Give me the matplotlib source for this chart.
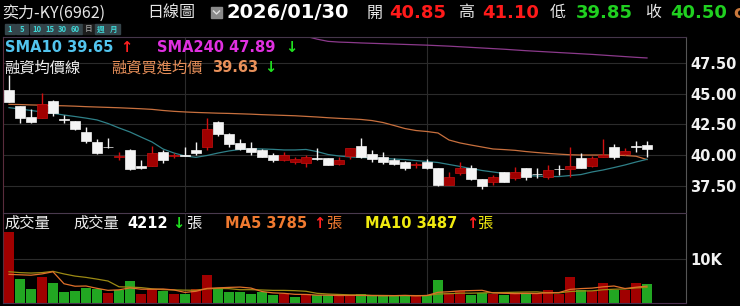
import matplotlib
matplotlib.use('Agg')
import matplotlib.pyplot as plt
from matplotlib.patches import Rectangle
from matplotlib.lines import Line2D

W, H = 740, 306
CJK = ['Noto Sans CJK TC', 'DejaVu Sans']

# daily candles (oldest -> newest)
opens = [45.28, 44.00, 43.07, 43.03, 44.39, 42.88, 42.76, 41.85, 41.08, 40.68,
         39.85, 40.41, 39.13, 39.13, 40.27, 39.94, 39.96, 40.41, 40.67, 42.71,
         41.71, 40.95, 40.60, 40.41, 40.00, 39.59, 39.41, 39.32, 39.76, 39.73,
         39.24, 39.92, 40.76, 40.06, 39.86, 39.59, 39.46, 39.21, 39.46, 38.92,
         37.56, 38.51, 38.92, 38.02, 37.83, 38.59, 38.11, 38.92, 38.48, 38.24,
         38.88, 38.86, 39.78, 39.13, 39.86, 40.67, 40.05, 40.70, 40.85]
highs = [46.50, 44.02, 43.72, 45.07, 44.45, 43.25, 42.80, 42.30, 41.28, 41.41,
         40.27, 40.45, 39.59, 40.76, 40.41, 40.19, 40.68, 41.08, 42.98, 42.75,
         41.75, 41.28, 41.08, 40.45, 40.19, 40.27, 39.86, 40.00, 40.54, 39.75,
         39.86, 40.56, 41.36, 40.41, 40.22, 39.73, 39.50, 39.46, 39.65, 38.95,
         38.64, 39.41, 39.19, 38.05, 38.37, 38.60, 39.05, 38.95, 38.92, 39.19,
         39.19, 40.67, 40.14, 39.92, 41.28, 40.87, 40.60, 41.14, 41.10]
lows = [44.28, 42.58, 42.63, 43.00, 43.17, 42.58, 42.05, 40.95, 40.06, 40.54,
        39.59, 38.82, 38.90, 39.10, 39.37, 39.73, 39.90, 40.00, 40.41, 41.54,
        40.67, 40.41, 40.00, 39.80, 39.46, 39.55, 39.27, 39.05, 39.59, 39.15,
        39.20, 39.65, 39.78, 39.46, 39.27, 39.19, 38.78, 38.97, 38.84, 37.50,
        37.53, 38.37, 38.00, 37.21, 37.56, 37.80, 37.97, 37.97, 38.11, 38.05,
        38.37, 38.19, 38.95, 39.05, 39.81, 39.67, 40.00, 40.27, 39.85]
closes = [44.28, 42.98, 42.71, 44.12, 43.39, 42.84, 42.09, 41.14, 40.19, 40.64,
          39.89, 38.84, 38.92, 40.14, 39.59, 39.98, 39.92, 40.14, 42.11, 41.68,
          40.87, 40.49, 40.27, 39.86, 39.59, 40.00, 39.65, 39.86, 39.70, 39.19,
          39.59, 40.54, 39.81, 39.68, 39.41, 39.27, 38.97, 39.25, 38.92, 37.56,
          38.19, 38.92, 38.02, 37.48, 38.19, 37.83, 38.64, 38.19, 38.43, 38.78,
          38.84, 39.11, 38.97, 39.73, 40.00, 39.86, 40.35, 40.66, 40.50]

sma10 = [43.85, 43.74, 43.62, 43.50, 43.39, 43.25, 43.13, 43.00, 42.85, 42.56,
         42.20, 41.87, 41.46, 41.06, 40.49, 40.16, 39.92, 39.81, 39.96, 40.16,
         40.33, 40.45, 40.49, 40.49, 40.46, 40.41, 40.41, 40.45, 40.28, 40.04,
         39.92, 39.84, 39.80, 39.76, 39.72, 39.67, 39.63, 39.55, 39.47, 39.39,
         39.23, 39.07, 38.90, 38.74, 38.62, 38.50, 38.41, 38.33, 38.29, 38.25,
         38.25, 38.33, 38.41, 38.62, 38.78, 38.98, 39.19, 39.43, 39.65]
sma240 = [50.62, 50.60, 50.57, 50.55, 50.52, 50.49, 50.46, 50.43, 50.40, 50.37,
          50.33, 50.30, 50.26, 50.22, 50.18, 50.14, 50.10, 50.06, 50.02, 49.97,
          49.94, 49.91, 49.88, 49.85, 49.82, 49.78, 49.73, 49.65, 49.42, 49.24,
          49.18, 49.15, 49.11, 49.08, 49.05, 49.02, 48.99, 48.96, 48.93, 48.89,
          48.85, 48.80, 48.75, 48.70, 48.65, 48.60, 48.54, 48.48, 48.43, 48.38,
          48.33, 48.28, 48.23, 48.18, 48.12, 48.06, 48.00, 47.94, 47.89]
margin_avg = [44.12, 44.10, 44.07, 44.05, 44.02, 44.00, 43.97, 43.93, 43.90, 43.87,
              43.84, 43.80, 43.76, 43.71, 43.62, 43.55, 43.50, 43.46, 43.43, 43.40,
              43.38, 43.35, 43.32, 43.28, 43.25, 43.22, 43.19, 43.14, 43.09, 43.03,
              42.98, 42.94, 42.89, 42.80, 42.64, 42.40, 42.15, 41.99, 41.91, 41.79,
              41.22, 40.98, 40.81, 40.65, 40.49, 40.44, 40.38, 40.28, 40.20, 40.13,
              40.07, 40.02, 40.00, 40.00, 40.00, 39.99, 39.96, 39.90, 39.63]

volume = [16300, 5540, 3150, 5920, 4600, 2450, 2690, 3380, 3230, 2300,
          3000, 4920, 1920, 3150, 2600, 1920, 2070, 3230, 6460, 3230,
          2450, 2450, 2070, 2450, 1690, 1920, 1300, 1920, 1690, 1690,
          1450, 1450, 1920, 1450, 1530, 1530, 1690, 1530, 1840, 5150,
          2220, 2690, 1840, 2220, 2070, 1840, 2300, 2070, 2070, 3000,
          2070, 5920, 3000, 2600, 4530, 3000, 3000, 4530, 4212]
# r = up day, g = down day
vol_dir = "rggrgggggr ggrrgrgrrg gggggrgrgg rrgggggrgg rrggrgrgrr rrgrrgrrg".replace(" ", "")
vol_ma5 = [6500, 6400, 6300, 6600, 7100, 4330, 3760, 3810, 3270, 2810,
           2920, 3370, 3070, 3060, 3120, 2900, 2330, 2590, 3260, 3380,
           3490, 3560, 3330, 2530, 2220, 2120, 1890, 1860, 1700, 1700,
           1610, 1640, 1640, 1590, 1560, 1580, 1620, 1550, 1620, 2350,
           2490, 2690, 2750, 2820, 2210, 2130, 2050, 2100, 2070, 2260,
           2300, 3030, 3210, 3320, 3620, 3810, 3230, 3530, 3785]
vol_ma10 = [7100, 6900, 6800, 6900, 7200, 6600, 6100, 5800, 5400, 4960,
            3630, 3560, 3440, 3160, 2960, 2910, 2850, 2830, 3160, 3250,
            3200, 2950, 2960, 2890, 2800, 2800, 2730, 2590, 2120, 1960,
            1860, 1760, 1750, 1650, 1630, 1590, 1630, 1590, 1610, 1950,
            2030, 2160, 2150, 2220, 2280, 2310, 2370, 2420, 2450, 2230,
            2220, 2540, 2660, 2690, 2940, 3060, 3130, 3370, 3487]

price_ticks = [37.5, 40.0, 42.5, 45.0, 47.5]
month_marks = [16, 38]

RED = '#a00000'
RED_EDGE = '#c81010'
WHITE = '#f4f4f4'
GREEN_V = '#22a622'
GRID = '#2b2b2b'

fig = plt.figure(figsize=(W / 100, H / 100), dpi=100)
fig.patch.set_facecolor('black')


def px_axes(x0, y0, x1, y1):
    return fig.add_axes([x0 / W, 1 - y1 / H, (x1 - x0) / W, (y1 - y0) / H])


def put(x, y, s, color, size, bold=False, cjk=False):
    fig.text(x / W, 1 - y / H, s, color=color, fontsize=size,
             fontweight='bold' if bold else 'normal',
             family=CJK if cjk else ['DejaVu Sans'], ha='left', va='center')


x_lo = (3 - 9) / 11
x_hi = (686 - 9) / 11

# ---- price panel
ax = px_axes(3, 37, 686, 212)
ax.set_facecolor('black')
ax.set_xlim(x_lo, x_hi)
ax.set_ylim(40 - 57 / 12.3, 40 + 118 / 12.3)
for t in price_ticks:
    ax.axhline(t, color=GRID, lw=0.8, zorder=0)
for m in month_marks:
    ax.axvline(m, color=GRID, lw=0.8, zorder=0)

idx = list(range(len(closes)))
ax.plot(idx, sma240, color='#8c3a8c', lw=0.9, zorder=1)
ax.plot(idx, margin_avg, color='#c8703e', lw=0.9, zorder=1)
ax.plot(idx, sma10, color='#2f8088', lw=0.9, zorder=1)

for i in idx:
    o, h, l, c = opens[i], highs[i], lows[i], closes[i]
    up = c >= o
    fc = RED if up else WHITE
    ec = RED_EDGE if up else WHITE
    wick = '#d01010' if up else WHITE
    ax.vlines(i, l, h, color=wick, lw=1.0, zorder=2)
    body = max(abs(c - o), 0.05)
    ax.bar(i, body, bottom=min(o, c), width=0.82, color=fc, edgecolor=ec,
           lw=0.5, zorder=3)

ax.yaxis.tick_right()
ax.set_yticks(price_ticks)
ax.set_yticklabels([f'{t:.2f}' for t in price_ticks])
ax.tick_params(axis='y', length=0, pad=3, labelcolor='#f2f2f2', labelsize=10.5)
for lab in ax.get_yticklabels():
    lab.set_fontweight('bold')
ax.set_xticks([])
ax.spines['left'].set_color('#5a2c3c')
ax.spines['top'].set_color('#45354a')
ax.spines['right'].set_color('#555555')
ax.spines['bottom'].set_visible(False)

# ---- volume panel
axv = px_axes(3, 213, 686, 302.5)
axv.set_facecolor('black')
axv.set_xlim(x_lo, x_hi)
axv.set_ylim(0, 89.5 / 4.33 * 1000)
axv.axhline(10000, color=GRID, lw=0.8, zorder=0)
for m in month_marks:
    axv.axvline(m, color=GRID, lw=0.8, zorder=0)
vcol = [RED if d == 'r' else GREEN_V for d in vol_dir]
axv.bar(idx, volume, width=0.9, color=vcol, zorder=2)
axv.plot(idx, vol_ma10, color='#9c8a14', lw=0.9, zorder=3)
axv.plot(idx, vol_ma5, color='#e0702a', lw=0.9, zorder=3)
axv.yaxis.tick_right()
axv.set_yticks([10000])
axv.set_yticklabels(['10K'])
axv.tick_params(axis='y', length=0, pad=3, labelcolor='#f2f2f2', labelsize=10.5)
for lab in axv.get_yticklabels():
    lab.set_fontweight('bold')
axv.set_xticks([])
axv.spines['left'].set_color('#5a2c3c')
axv.spines['top'].set_color('#4a3a4e')
axv.spines['bottom'].set_color('#4a3050')
axv.spines['right'].set_color('#555555')

# ---- header
put(2, 13, '奕力-KY(6962)', '#e6e6e6', 11.5, cjk=True)
put(147, 13, '日線圖', '#e6e6e6', 11.5, cjk=True)
fig.add_artist(Rectangle((211 / W, 1 - 18 / H), 11 / W, 11 / H,
                         transform=fig.transFigure, color='#8a8a8a'))
fig.add_artist(Line2D([213.5 / W, 216.5 / W, 219.5 / W],
                      [1 - 11 / H, 1 - 14 / H, 1 - 11 / H],
                      transform=fig.transFigure, color='#e0e0e0', lw=1))
put(227, 13, '2026/01/30', '#ffffff', 14, bold=True)
put(367, 13, '開', '#e6e6e6', 11.5, cjk=True)
put(389, 13, '40.85', '#ff1a1a', 13, bold=True)
put(458, 13, '高', '#e6e6e6', 11.5, cjk=True)
put(482, 13, '41.10', '#ff1a1a', 13, bold=True)
put(550, 13, '低', '#e6e6e6', 11.5, cjk=True)
put(576, 13, '39.85', '#20d020', 13, bold=True)
put(645, 13, '收', '#e6e6e6', 11.5, cjk=True)
put(670, 13, '40.50', '#20d020', 13, bold=True)
put(733, 13, 'c', '#c8783c', 13, bold=True)

# period buttons
buttons = ['1', '5', '10', '15', '30', '60', '日', '週', '月']
bx = [5, 16, 30, 44, 57, 69, 83, 95, 107]
bw = [10, 12, 13, 12, 11, 13, 11, 12, 13]
for lab, x0, w in zip(buttons, bx, bw):
    dark = lab == '日'
    fig.add_artist(Rectangle((x0 / W, 1 - 34 / H), w / W, 10 / H,
                             transform=fig.transFigure,
                             color='#1c1c1c' if dark else '#34444a'))
    fig.text((x0 + w / 2) / W, 1 - 29 / H, lab,
             color='#909090' if dark else '#3fd6d6', fontsize=5.5,
             fontweight='bold', family=CJK, ha='center', va='center')

# ---- price legend
put(5, 47, 'SMA10 39.65', '#52c4ee', 10.5, bold=True)
put(120, 47, '↑', '#ff2020', 10.5, bold=True)
put(157, 47, 'SMA240 47.89', '#e030e0', 10.5, bold=True)
put(285, 47, '↓', '#20e020', 10.5, bold=True)
put(4, 68, '融資均價線', '#eeeeee', 11, cjk=True)
put(111, 68, '融資買進均價', '#e8905a', 11, cjk=True)
put(212, 68, '39.63', '#e8905a', 10.5, bold=True)
put(264, 68, '↓', '#20e020', 10.5, bold=True)

# ---- volume legend
put(4, 223, '成交量', '#eeeeee', 11, cjk=True)
put(73, 223, '成交量', '#eeeeee', 11, cjk=True)
put(127, 223, '4212', '#ffffff', 10.5, bold=True)
put(172, 223, '↓', '#20e020', 10.5, bold=True)
put(186, 223, '張', '#eeeeee', 11, cjk=True)
put(225, 223, 'MA5 3785', '#f07a30', 10.5, bold=True)
put(313, 223, '↑', '#ff2020', 10.5, bold=True)
put(326, 223, '張', '#f07a30', 11, cjk=True)
put(365, 223, 'MA10 3487', '#f0ea10', 10.5, bold=True)
put(466, 223, '↑', '#ff2020', 10.5, bold=True)
put(477, 223, '張', '#f0ea10', 11, cjk=True)

fig.savefig('out.png', dpi=100, facecolor='black')
